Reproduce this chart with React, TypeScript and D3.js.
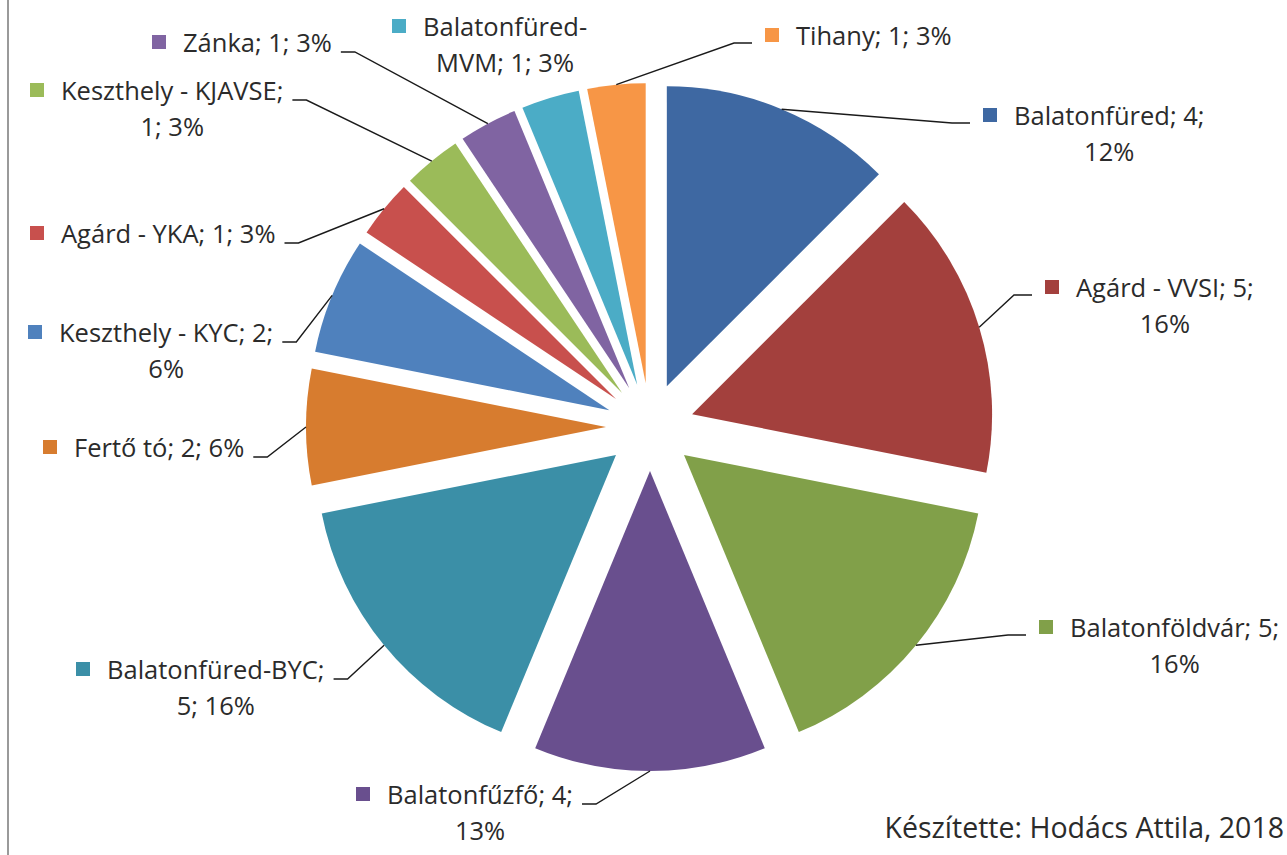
import React, { useEffect, useRef } from 'react';
import * as d3 from 'd3';

// ---- data ----
const names = [
  'Balatonfüred',
  'Agárd - VVSI',
  'Balatonföldvár',
  'Balatonfűzfő',
  'Balatonfüred-BYC',
  'Fertő tó',
  'Keszthely - KYC',
  'Agárd - YKA',
  'Keszthely - KJAVSE',
  'Zánka',
  'Balatonfüred-MVM',
  'Tihany',
];
const values = [4, 5, 5, 4, 5, 2, 2, 1, 1, 1, 1, 1];
const percents = [12, 16, 16, 13, 16, 6, 6, 3, 3, 3, 3, 3];
const colors = [
  '#3E68A2', '#A3403D', '#81A049', '#694F8E', '#3B8FA7', '#D77C2F',
  '#4F81BD', '#C8504D', '#9BBB59', '#8064A2', '#4BACC6', '#F79646',
];
const caption = 'Készítette: Hodács Attila, 2018';

// ---- label layout (text start x, first baseline, wrap mode, side) ----
const labelX = [1014, 1076, 1070, 387, 107, 74, 59, 61, 61, 183, 423, 796];
const labelY = [125, 297, 637, 804, 679, 457, 342, 243, 100, 52, 36, 45];
const labelWrap = ['value', 'value', 'value', 'value', 'name', 'none', 'value', 'none', 'name', 'none', 'hyphen', 'none'];
const labelSide = ['right', 'right', 'right', 'left', 'left', 'left', 'left', 'left', 'left', 'left', 'none', 'right'];

const W = 1287;
const H = 855;
const CX = 650;
const CY = 427;
const R = 300;
const EXPLODE = 44;
const FONT = '"Open Sans", Lato, sans-serif';
const FS = 25.5;
const LINE_H = 36;

function labelLines(i: number): string[] {
  const n = names[i];
  const v = values[i];
  const p = percents[i] + '%';
  switch (labelWrap[i]) {
    case 'value':
      return [`${n}; ${v};`, p];
    case 'name':
      return [`${n};`, `${v}; ${p}`];
    case 'hyphen': {
      const k = n.indexOf('-');
      return [n.slice(0, k + 1), `${n.slice(k + 1)}; ${v}; ${p}`];
    }
    default:
      return [`${n}; ${v}; ${p}`];
  }
}

export default function App() {
  const ref = useRef<SVGSVGElement | null>(null);

  useEffect(() => {
    const draw = () => {
      const svg = d3.select(ref.current);
      svg.selectAll('*').remove();

      svg.append('rect').attr('width', W).attr('height', H).attr('fill', '#ffffff');
      svg.append('line')
        .attr('x1', 8).attr('x2', 8).attr('y1', 0).attr('y2', H)
        .attr('stroke', '#9a9a9a').attr('stroke-width', 2);

      const pie = d3.pie<number>().sort(null).value((d) => d);
      const arcs = pie(values);
      const arcGen = d3.arc<d3.PieArcDatum<number>>().innerRadius(0).outerRadius(R);

      const g = svg.append('g').attr('transform', `translate(${CX},${CY})`);
      g.selectAll('path.slice')
        .data(arcs)
        .join('path')
        .attr('class', 'slice')
        .attr('d', arcGen as any)
        .attr('fill', (_d, i) => colors[i])
        .attr('transform', (d) => {
          const a = (d.startAngle + d.endAngle) / 2;
          return `translate(${EXPLODE * Math.sin(a)},${-EXPLODE * Math.cos(a)})`;
        });

      const lg = svg.append('g');
      arcs.forEach((d, i) => {
        const lines = labelLines(i);
        const x = labelX[i];
        const y = labelY[i];
        const t1 = lg.append('text')
          .attr('x', x).attr('y', y)
          .attr('font-family', FONT).attr('font-size', FS)
          .attr('fill', '#2b2b2b')
          .text(lines[0]);
        const w1 = (t1.node() as SVGTextElement).getComputedTextLength();
        if (lines[1]) {
          lg.append('text')
            .attr('x', x + w1 / 2).attr('y', y + LINE_H)
            .attr('text-anchor', 'middle')
            .attr('font-family', FONT).attr('font-size', FS)
            .attr('fill', '#2b2b2b')
            .text(lines[1]);
        }
        lg.append('rect')
          .attr('x', x - 31).attr('y', y - 17)
          .attr('width', 14).attr('height', 14)
          .attr('fill', colors[i]);

        const a = (d.startAngle + d.endAngle) / 2;
        const px = CX + (R + EXPLODE) * Math.sin(a);
        const py = CY - (R + EXPLODE) * Math.cos(a);
        let pts: [number, number][] | null = null;
        if (labelSide[i] === 'right') {
          const x2 = x - 44;
          const x1 = x2 - 18;
          pts = [[px, py], [x1, y - 2], [x2, y - 2]];
        } else if (labelSide[i] === 'left') {
          const x1 = x + w1 + 9;
          const x2 = x1 + 14;
          pts = [[x1, y], [x2, y], [px, py]];
        }
        if (pts) {
          lg.append('path')
            .attr('d', d3.line()(pts) as string)
            .attr('fill', 'none')
            .attr('stroke', '#1a1a1a')
            .attr('stroke-width', 1.4);
        }
      });

      svg.append('text')
        .attr('x', 1284).attr('y', 838)
        .attr('text-anchor', 'end')
        .attr('font-family', FONT).attr('font-size', 28.5)
        .attr('fill', '#2b2b2b')
        .text(caption);
    };
    draw();
    if ((document as any).fonts && (document as any).fonts.ready) {
      (document as any).fonts.ready.then(draw);
    }
  }, []);

  return (
    <svg
      ref={ref}
      width={W}
      height={H}
      style={{ position: 'absolute', left: 0, top: 0, display: 'block' }}
    />
  );
}
